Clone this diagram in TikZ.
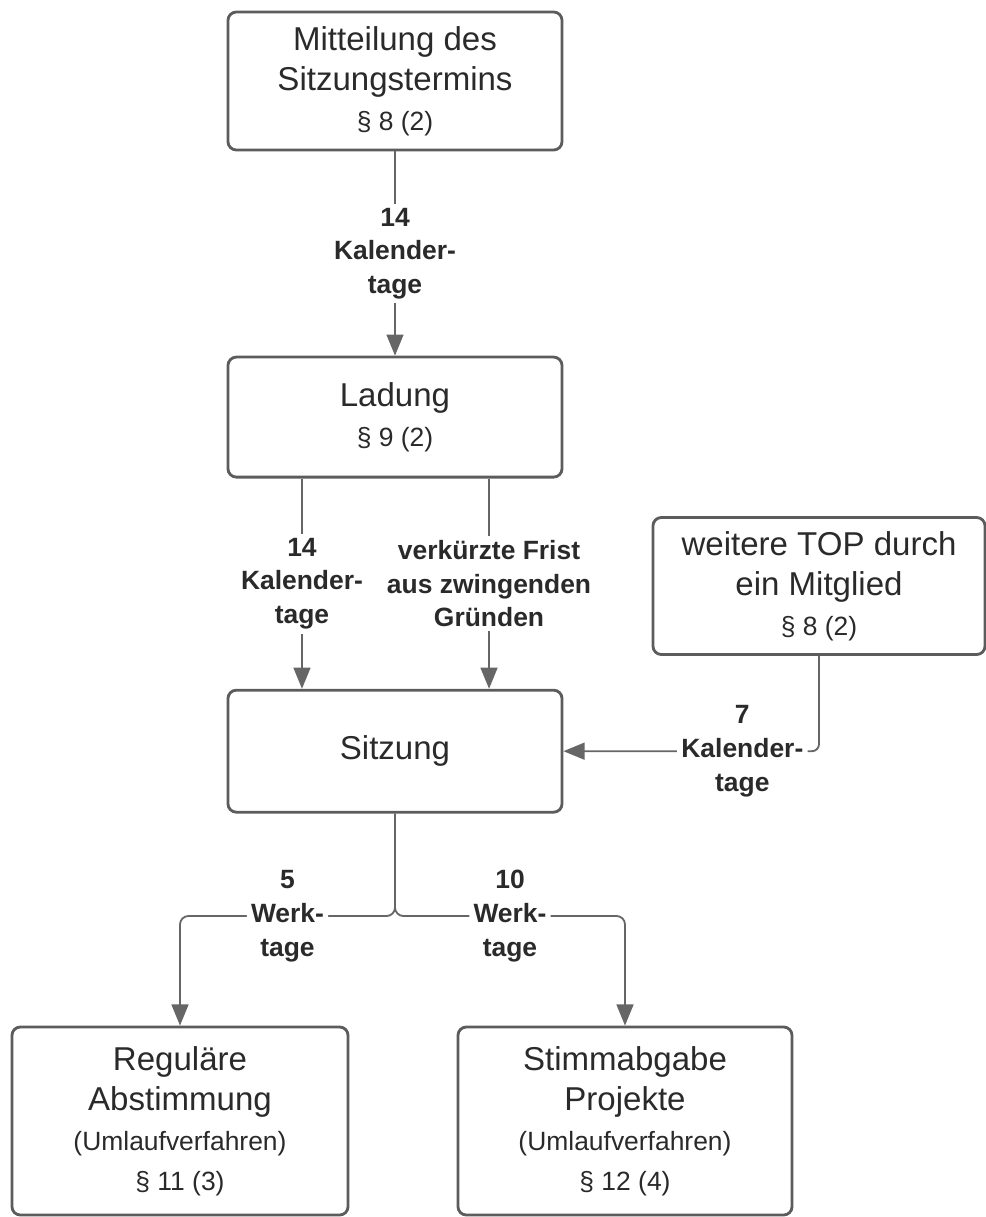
\documentclass[tikz,border=0pt]{standalone}
\usepackage{fontspec}
\setmainfont{Liberation Sans}
\usepackage{tikz}
\usetikzlibrary{positioning, arrows.meta}

\definecolor{boxgray}{HTML}{5C5C5C}
\definecolor{linegray}{HTML}{666666}
\definecolor{txtgray}{HTML}{2A2A2A}

\newcommand{\bigtxt}{\fontsize{23.5}{28.5}\selectfont}
\newcommand{\smalltxt}{\fontsize{18.8}{24}\selectfont}

\begin{document}
\begin{tikzpicture}[x=0.025cm, y=-0.025cm, >={Triangle[length=15pt, width=12pt]},
    box/.style={draw=boxgray, line width=2pt, rounded corners=6pt, align=center,
        text=txtgray, font=\bigtxt, minimum width=8.35cm},
    lbl/.style={fill=white, align=center, inner sep=3pt, text=txtgray,
        font=\bfseries\smalltxt},
    conn/.style={draw=linegray, line width=1.3pt}]
    \useasboundingbox (0,0) rectangle (986,1217);

    \node [box, minimum height=3.45cm] (mitteilung) at (395,81)
        {Mitteilung des\\Sitzungstermins\\{\smalltxt § 8 (2)}};
    \node [box, minimum height=3cm, below of=mitteilung, node distance=8.4cm] (ladung)
        {Ladung\\{\smalltxt § 9 (2)}};
    \node [box, minimum height=3.05cm, below of=ladung, node distance=8.35cm] (sitzung) {Sitzung};
    \node [box, minimum width=8.3cm, minimum height=3.425cm] (weitere) at (819,586)
        {weitere TOP durch\\ein Mitglied\\{\smalltxt § 8 (2)}};
    \node [box, minimum width=8.4cm, minimum height=4.7cm] (regular) at (180,1121)
        {Reguläre\\Abstimmung\\{\smalltxt (Umlaufverfahren)}\\{\smalltxt § 11 (3)}};
    \node [box, minimum height=4.7cm] (stimm) at (625,1121)
        {Stimmabgabe\\Projekte\\{\smalltxt (Umlaufverfahren)}\\{\smalltxt § 12 (4)}};

    \draw [conn, ->] (mitteilung) -- node [lbl] {14\\Kalender-\\tage} (ladung);
    \draw [conn, ->] ([xshift=-2.325cm]ladung.south) -- node [lbl] {14\\Kalender-\\tage}
        ([xshift=-2.325cm]sitzung.north);
    \draw [conn, ->] ([xshift=2.35cm]ladung.south) -- node [lbl]
        {verkürzte Frist\\aus zwingenden\\Gründen} ([xshift=2.35cm]sitzung.north);

    % TOP-Antrag von der Seite
    \draw [conn, ->, rounded corners=5pt] (weitere.south) |- node [lbl, pos=0.65]
        {7\\Kalender-\\tage} (sitzung.east);

    % Verzweigung unter der Sitzung
    \coordinate (split) at (395,916);
    \draw [conn, ->, rounded corners=6pt] (sitzung.south) -- (split) -| node [lbl, pos=0.25]
        {5\\Werk-\\tage} (regular.north);
    \draw [conn, ->, rounded corners=6pt] (sitzung.south) -- (split) -| node [lbl, pos=0.25]
        {10\\Werk-\\tage} (stimm.north);
\end{tikzpicture}
\end{document}
